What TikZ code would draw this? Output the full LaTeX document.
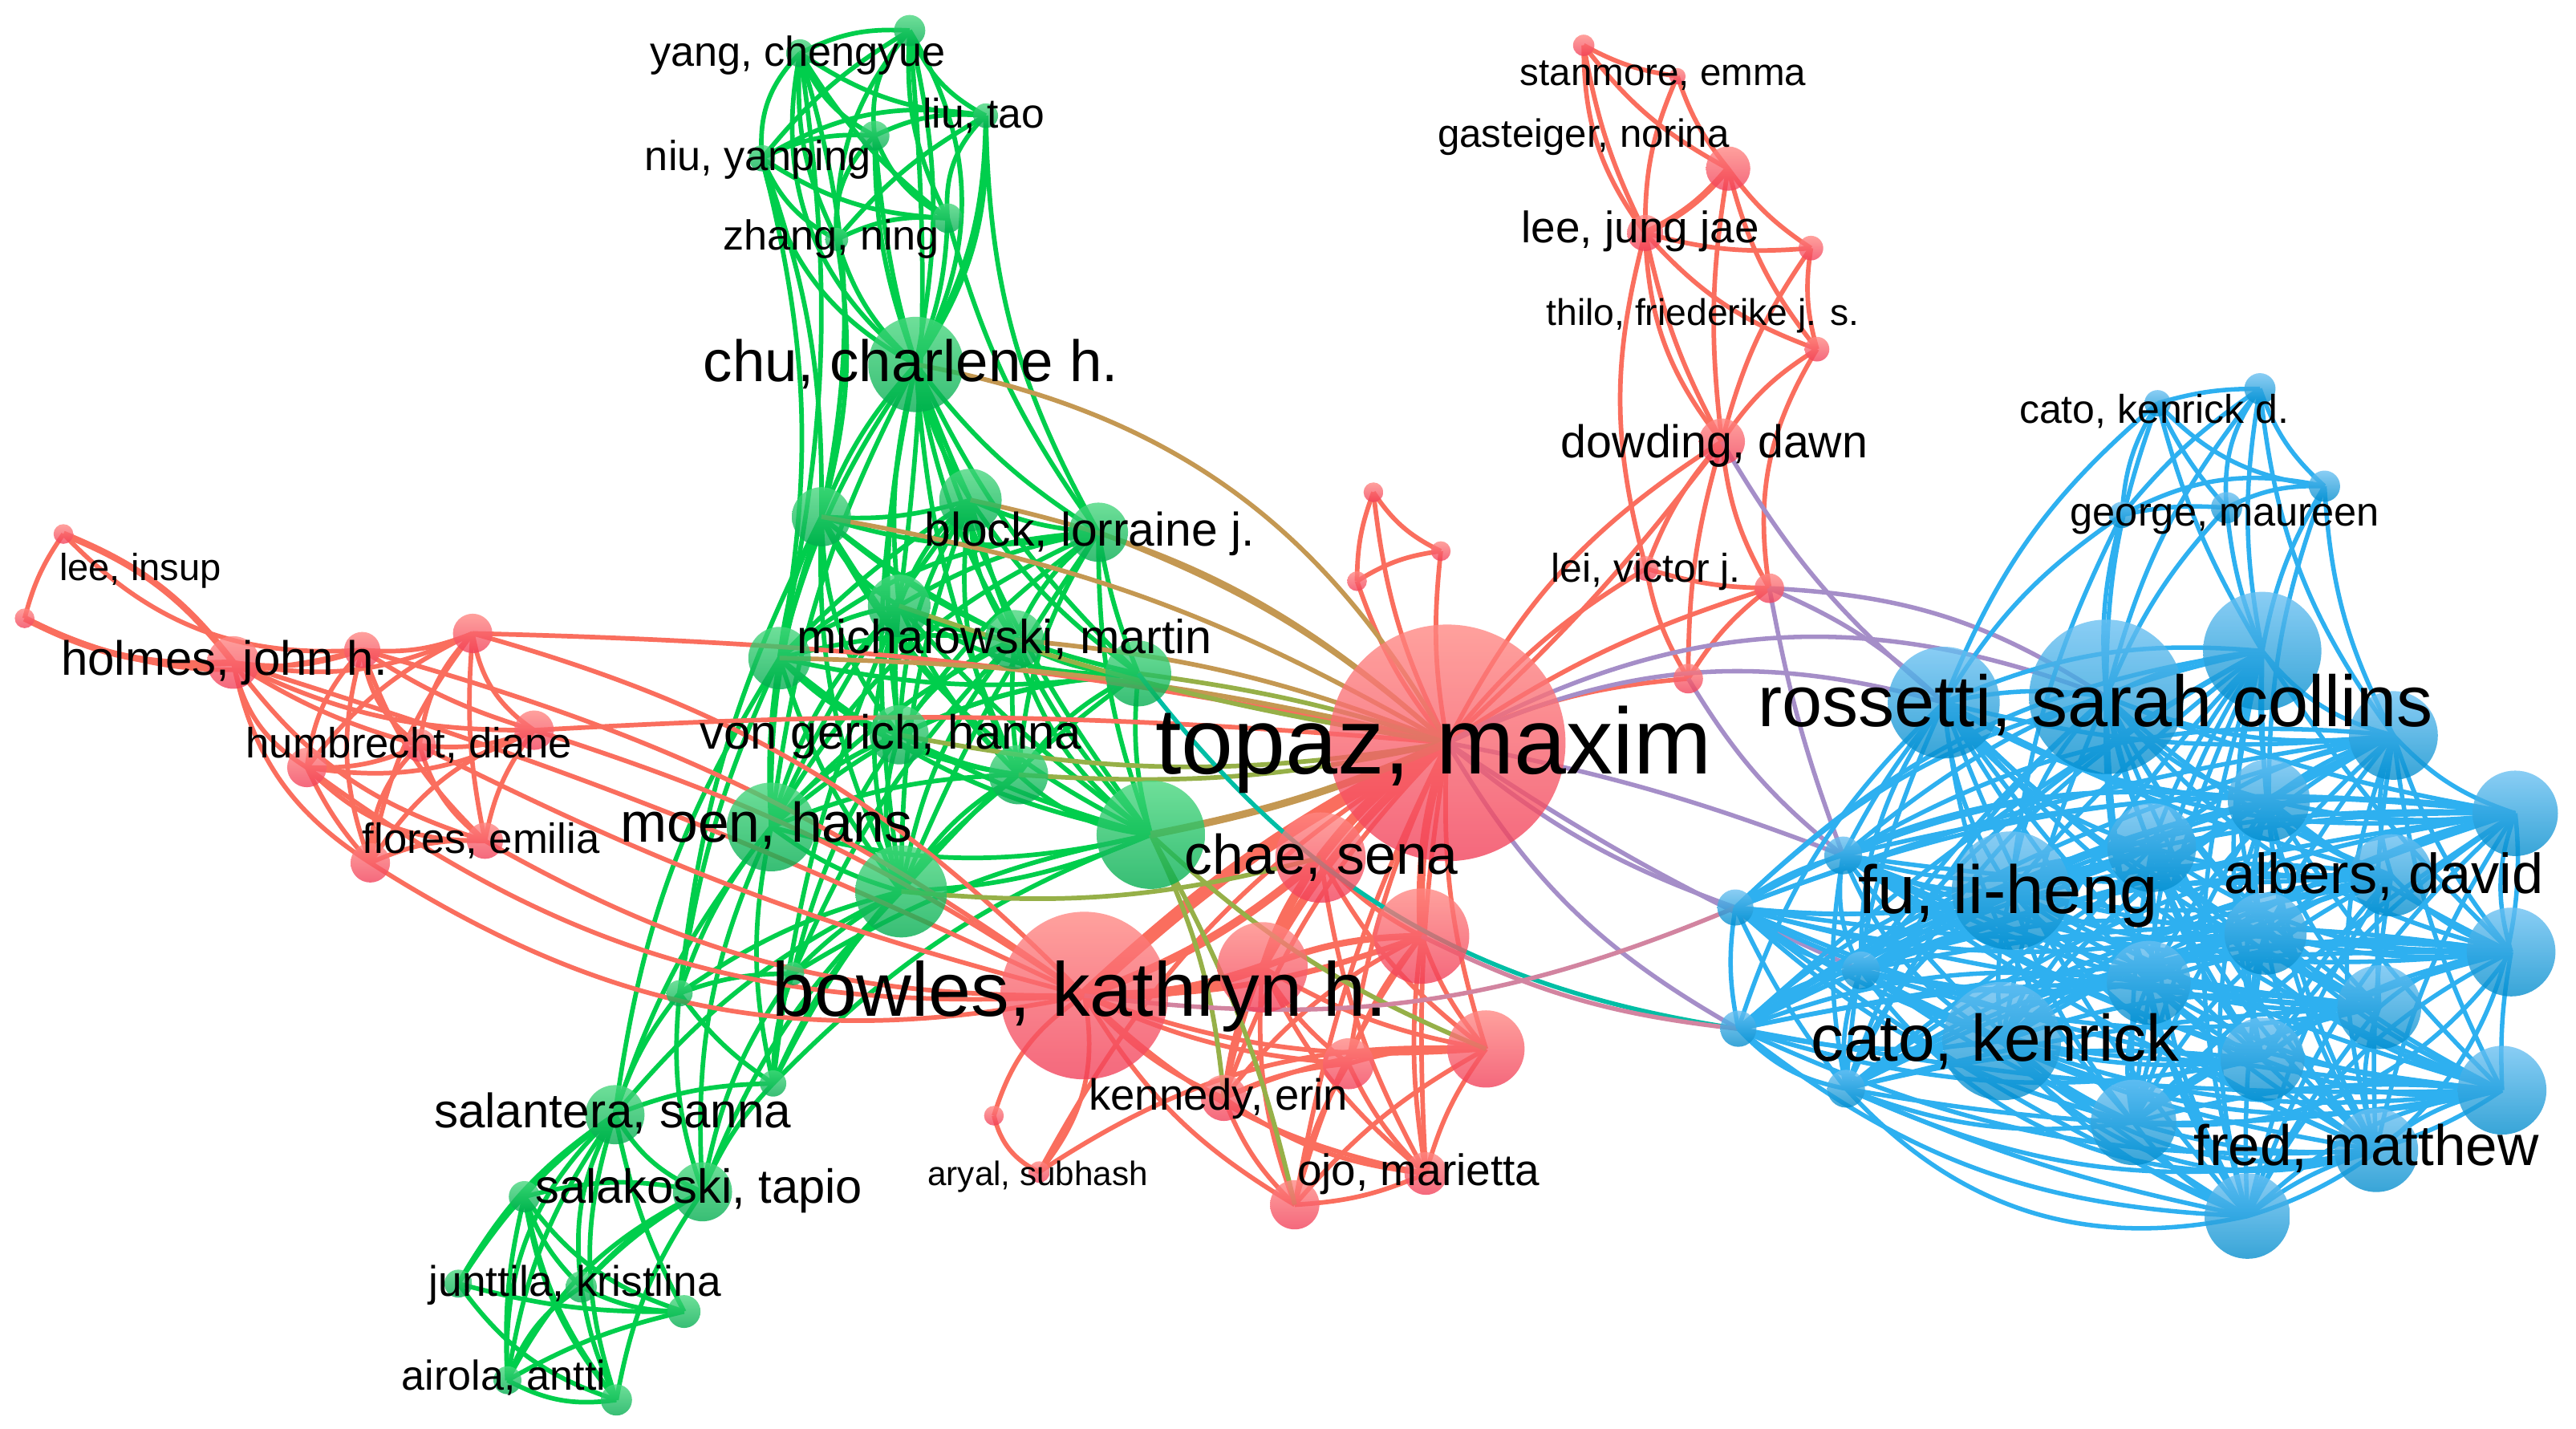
\documentclass[tikz,border=0pt]{standalone}
\usepackage{fontspec}
\setmainfont{Liberation Sans}
\pgfdeclarelayer{back}
\pgfdeclarelayer{bg}
\pgfsetlayers{back,bg,main}
\definecolor{redE}{RGB}{250,110,94}
\definecolor{greenE}{RGB}{0,206,76}
\definecolor{blueE}{RGB}{46,176,240}
\definecolor{rT}{RGB}{255,135,130}
\definecolor{rB}{RGB}{242,62,88}
\definecolor{gT}{RGB}{70,215,125}
\definecolor{gB}{RGB}{0,172,78}
\definecolor{bT}{RGB}{105,192,242}
\definecolor{bB}{RGB}{0,140,205}
\definecolor{oliveE}{RGB}{196,152,82}
\definecolor{oliveG}{RGB}{150,176,72}
\definecolor{purpE}{RGB}{165,142,200}
\definecolor{pinkE}{RGB}{210,132,160}
\definecolor{tealE}{RGB}{0,190,165}
\begin{document}
\begin{tikzpicture}[x=1pt,y=-1pt,
  rn/.style={circle,inner sep=0pt,draw=none,fill opacity=0.78,top color=rT,bottom color=rB},
  gn/.style={circle,inner sep=0pt,draw=none,fill opacity=0.78,top color=gT,bottom color=gB},
  bn/.style={circle,inner sep=0pt,draw=none,fill opacity=0.78,top color=bT,bottom color=bB},
  ge/.style={draw=greenE,line width=2.8pt},
  re/.style={draw=redE,line width=2.8pt},
  be/.style={draw=blueE,line width=2.7pt},
  oe/.style={draw=oliveE,line width=2.8pt},
  oge/.style={draw=oliveG,line width=2.8pt},
  pe/.style={draw=purpE,line width=2.7pt},
  pke/.style={draw=pinkE,line width=2.7pt},
  te/.style={draw=tealE,line width=2.7pt},
  lab/.style={anchor=base west,inner sep=0pt,text=black}]
\begin{pgfonlayer}{back}
\fill[white] (0,0) rectangle (1568,869.7);
\end{pgfonlayer}
\useasboundingbox (0,0) rectangle (1568,869.7);

% ---------- nodes ----------
\foreach \n/\x/\y/\d in {g0/557.5/221.8/58, g1/553.7/18.6/19, g2/487/32.4/17, g3/600/70.4/15,
  g4/532.4/82.6/18, g5/463.9/96.3/16, g6/576.8/132.8/18, g7/509.3/145.7/14,
  g8/500/314.5/36, g9/590.7/304.3/38, g10/668.6/323.9/36, g11/547.3/368.7/38,
  g12/617.5/389.3/36, g13/474.5/400.5/38, g14/692.9/409.9/40, g15/547.3/447.2/36,
  g16/620/471.5/36, g17/469.4/503.3/54, g18/548.6/542.5/56, g19/700.5/508/66,
  g20/482.7/592.6/14, g21/413.6/604.5/16, g22/470.6/659.4/16, g23/374.3/678.4/36,
  g24/427.6/725.3/36, g25/319.2/728.3/19, g26/279/781.2/17, g27/353.8/783.2/19,
  g28/416.4/798.2/20, g29/308.9/840/17, g30/375.2/852/19}
  \node[gn,minimum size=\d pt] (\n) at (\x,\y) {};

\foreach \n/\x/\y/\d in {r0/880.9/452.1/144, r1/660/605.9/102, r2/803.8/521.9/55, r3/865.3/569.7/58,
  r4/768.5/588.7/55, r5/904.5/638.4/47, r6/820.8/647.4/31, r7/745/668.2/28,
  r8/605/679/12, r9/632.5/713.3/13, r10/788.1/733.2/30, r11/867.9/714.2/26,
  r12/38.6/325/12, r13/15/376.3/12, r14/142/403.2/32, r15/220.5/395.6/22,
  r16/287.7/385.5/24, r17/186.8/467.1/24, r18/255.4/453.6/20, r19/325.1/444.4/24,
  r20/295.2/511.7/22, r21/225.4/525.1/24, r22/964/27.6/13, r23/1021/46.4/10,
  r24/1051.9/102.6/27, r25/1001.4/141.8/22, r26/1102.3/151/15, r27/1106/212.5/15,
  r28/1048.1/268.7/28, r29/1002/346/15, r30/1077/358/18, r31/1027.6/413/18,
  r32/877/335.4/12, r33/836/299.6/12, r34/826/353.7/12}
  \node[rn,minimum size=\d pt] (\n) at (\x,\y) {};

\foreach \n/\x/\y/\d in {b1/1375.6/236.6/19, b2/1313.3/245.4/16, b3/1414.9/295.9/19,
  b4/1355.3/309/19, b5/1291.6/313.4/16, b6/1377/396.2/72, b7/1282.1/424.1/94,
  b8/1183.2/427.6/68, b9/1456.9/447.6/54, b10/1381/487/50, b11/1531/495/52,
  b12/1121.9/520.6/23, b13/1056.3/552.3/22, b14/1224/542/72, b15/1309.7/515.9/54,
  b16/1455.6/532.7/50, b17/1379/568.2/50, b18/1528.5/579.4/54, b19/1132.8/590.6/23,
  b20/1307.9/598.1/51, b21/1448.3/613/51, b22/1058.1/626.1/22, b23/1218.5/633.6/72,
  b24/1377.2/644.8/51, b25/1123.7/662.6/23, b26/1523/663.5/54, b27/1298.7/683.1/52,
  b28/1446.4/700/51, b29/1368/740.1/52}
  \node[bn,minimum size=\d pt] (\n) at (\x,\y) {};

% ---------- edges ----------
\begin{pgfonlayer}{bg}
% green top cluster
\foreach \q/\b in {g1/30, g2/-32, g3/18, g4/-10, g5/-25, g6/10, g7/-15}
  \draw[ge] (g0.center) to[bend right=\b] (\q.center);
\foreach \i in {1,...,6}{\pgfmathtruncatemacro\s{\i+1}
  \foreach \j in {\s,...,7}{\pgfmathtruncatemacro\bb{10+mod(\i*3+\j,4)*5}
    \draw[ge] (g\i.center) to[bend right=\bb] (g\j.center);}}
\foreach \p/\q/\b in {g2/g8/-14, g5/g13/-12, g3/g10/14, g1/g11/-6, g5/g8/-10, g2/g13/-10, g4/g9/10, g7/g8/-12, g6/g10/10, g1/g0/-12, g3/g0/-15}
  \draw[ge] (\p.center) to[bend right=\b] (\q.center);
% green centre clique
\foreach \j in {8,...,19}{\draw[ge] (g0.center) to[bend right=10] (g\j.center);}
\foreach \i in {8,...,18}{\pgfmathtruncatemacro\s{\i+1}
  \foreach \j in {\s,...,19}{\pgfmathtruncatemacro\bb{6+mod(\i*3+\j,4)*4}
    \draw[ge] (g\i.center) to[bend right=\bb] (g\j.center);}}
% green bottom
\foreach \p/\q/\b in {g17/g21/10, g17/g22/12, g17/g23/10, g17/g24/14, g18/g20/8, g18/g21/10,
  g18/g22/10, g18/g23/12, g18/g24/12, g13/g21/8, g13/g23/12, g15/g20/10, g16/g22/12,
  g20/g21/10, g20/g22/10, g20/g24/12, g21/g22/10, g21/g23/10, g21/g24/12, g22/g23/10,
  g22/g24/10, g19/g20/10, g19/g22/12, g8/g21/10, g11/g22/8, g12/g20/10}
  \draw[ge] (\p.center) to[bend right=\b] (\q.center);
\foreach \i in {23,...,29}{\pgfmathtruncatemacro\s{\i+1}
  \foreach \j in {\s,...,30}{\pgfmathtruncatemacro\k{mod(\i+2*\j,4)}\pgfmathtruncatemacro\bb{8+mod(\i+\j,3)*5}
    \ifnum\k>0\relax\draw[ge] (g\i.center) to[bend right=\bb] (g\j.center);\fi}}
\foreach \p/\q/\b in {g23/g29/25, g24/g30/12, g23/g26/10, g24/g27/10, g25/g30/15}
  \draw[ge] (\p.center) to[bend right=\b] (\q.center);

% red left
\foreach \p/\q/\b in {r12/r13/10, r13/r15/20, r12/r15/25}
  \draw[re] (\p.center) to[bend right=\b] (\q.center);
\draw[re,line width=4pt] (r12.center) to[bend left=15] (r14.center);
\draw[re,line width=4pt] (r13.center) to[bend right=15] (r14.center);
\foreach \i in {14,...,20}{\pgfmathtruncatemacro\s{\i+1}
  \foreach \j in {\s,...,21}{\pgfmathtruncatemacro\bb{8+mod(\i*3+\j,4)*5}
    \draw[re] (r\i.center) to[bend right=\bb] (r\j.center);}}
\foreach \p/\q/\b in {r16/r1/-15, r16/r0/-5, r19/r1/-8, r19/r0/-4, r15/r1/-10,
  r20/r1/15, r21/r1/22, r17/r1/20, r14/r1/-4, r18/r1/6}
  \draw[re] (\p.center) to[bend right=\b] (\q.center);
% red top right
\foreach \p/\q/\b in {r22/r23/10, r22/r24/12, r22/r25/18, r22/r25/8, r23/r24/10, r23/r25/12,
  r24/r26/10, r24/r27/12, r24/r28/8, r25/r26/10, r25/r27/14, r25/r28/8, r25/r28/18,
  r26/r27/12, r26/r28/10, r27/r28/12, r28/r29/10, r28/r30/12, r28/r31/8, r28/r0/15,
  r29/r30/8, r29/r31/10, r29/r0/10, r30/r31/10, r30/r0/8, r31/r0/10, r27/r30/20,
  r33/r32/15, r33/r34/10, r32/r34/12, r33/r0/10, r32/r0/8, r34/r0/10, r25/r29/15, r28/r0/-5}
  \draw[re] (\p.center) to[bend right=\b] (\q.center);
\draw[re,line width=4pt] (r24.center) to[bend left=12] (r25.center);
% red centre
\foreach \p/\q/\b in {r0/r5/10, r0/r6/8, r0/r7/12, r0/r10/8, r0/r11/6, r1/r3/10, r1/r5/12,
  r1/r6/10, r1/r7/12, r1/r8/20, r1/r9/-25, r1/r10/14, r1/r11/16, r8/r9/25, r3/r5/10, r3/r6/10,
  r3/r10/10, r3/r11/8, r4/r5/10, r4/r6/10, r4/r7/10, r4/r10/12, r5/r6/10, r5/r7/12,
  r5/r10/10, r5/r11/10, r6/r7/10, r6/r10/10, r6/r11/10, r7/r10/12, r7/r11/14, r10/r11/10,
  r2/r5/12, r2/r11/10, r2/r3/10, r4/r11/12, r2/r7/10, r3/r7/12, r0/r9/15, r5/r9/18}
  \draw[re] (\p.center) to[bend right=\b] (\q.center);
\draw[re,line width=8pt] (r0.center) to[bend right=8] (r1.center);
\foreach \p/\q/\w in {r0/r2/6, r1/r4/6, r0/r3/5, r1/r2/5, r0/r4/5, r2/r4/4, r3/r4/4, r1/r3/3.5}
  \draw[re,line width=\w pt] (\p.center) to[bend right=10] (\q.center);
% green-red
\foreach \p/\q/\b in {g0/r0/-25, g10/r0/-10, g12/r0/-8, g9/r0/-15, g13/r0/-6, g8/r0/-10}
  \draw[oe] (\p.center) to[bend right=\b] (\q.center);
\foreach \p/\q/\b in {g14/r0/-5, g16/r0/8, g11/r0/5, g15/r0/10, g19/r5/10, g19/r7/-10, g19/r10/-8, g18/r2/10}
  \draw[oge] (\p.center) to[bend right=\b] (\q.center);
\draw[oe,line width=4.5pt] (g19.center) to[bend right=6] (r0.center);
% green-blue
\draw[te] (g14.center) to[bend right=22] (b22.center);
% red-blue
\foreach \p/\q/\b in {r0/b8/-20, r30/b8/-10, r30/b7/-15, r28/b8/10, r0/b13/10, r0/b12/-5,
  r0/b22/15, r0/b19/5, r31/b12/10, r0/b7/-25, r30/b12/5}
  \draw[pe] (\p.center) to[bend right=\b] (\q.center);
\draw[pke] (r1.center) to[bend right=15] (b13.center);
\draw[pke] (r3.center) to[bend right=10] (b22.center);
% blue
\foreach \i in {1,...,4}{\pgfmathtruncatemacro\s{\i+1}
  \foreach \j in {\s,...,5}{\pgfmathtruncatemacro\bb{8+mod(\i+\j,3)*6}
    \draw[be] (b\i.center) to[bend right=\bb] (b\j.center);}}
\foreach \p/\q/\b in {b1/b6/10, b1/b7/12, b2/b7/10, b2/b8/14, b3/b6/10, b3/b9/12, b4/b7/10,
  b4/b6/8, b5/b8/12, b5/b7/10, b2/b6/8, b3/b10/10, b5/b14/10, b1/b9/15}
  \draw[be] (\p.center) to[bend right=\b] (\q.center);
\foreach \i in {6,...,28}{\pgfmathtruncatemacro\s{\i+1}
  \foreach \j in {\s,...,29}{\pgfmathtruncatemacro\k{mod(\i*7+\j*3,5)}\pgfmathtruncatemacro\bb{6+mod(\i*3+\j,4)*4}
    \ifnum\k>0\relax\draw[be] (b\i.center) to[bend right=\bb] (b\j.center);\fi}}
\foreach \p/\q/\b in {b23/b26/40, b25/b29/30, b19/b28/35, b29/b11/40, b27/b18/30, b23/b28/35}
  \draw[be] (\p.center) to[bend right=\b] (\q.center);
\end{pgfonlayer}

% ---------- labels ----------
\node[lab,font=\fontsize{25.5}{25.5}\selectfont] (l-yang) at (395.5,40.5) {yang, chengyue};
\node[lab,font=\fontsize{25.2}{25.2}\selectfont] (l-liu) at (561.5,77.7) {liu, tao};
\node[lab,font=\fontsize{25.5}{25.5}\selectfont] (l-niu) at (392.4,103.6) {niu, yanping};
\node[lab,font=\fontsize{25.5}{25.5}\selectfont] (l-zhang) at (439.8,152.2) {zhang, ning};
\node[lab,font=\fontsize{35.5}{35.5}\selectfont] (l-chu) at (428,232.3) {chu, charlene h.};
\node[lab,font=\fontsize{23.2}{23.2}\selectfont] (l-stan) at (925,52.1) {stanmore, emma};
\node[lab,font=\fontsize{24}{24}\selectfont] (l-gast) at (875,89.5) {gasteiger, norina};
\node[lab,font=\fontsize{26.8}{26.8}\selectfont] (l-leej) at (926,147.9) {lee, jung jae};
\node[lab,font=\fontsize{22.6}{22.6}\selectfont] (l-thilo) at (941,198) {thilo, friederike j. s.};
\node[lab,font=\fontsize{28}{28}\selectfont] (l-dowd) at (950,278.7) {dowding, dawn};
\node[lab,font=\fontsize{24.4}{24.4}\selectfont] (l-lei) at (944,354.5) {lei, victor j.};
\node[lab,font=\fontsize{23}{23}\selectfont] (l-leei) at (36,353.3) {lee, insup};
\node[lab,font=\fontsize{29.3}{29.3}\selectfont] (l-holm) at (37,411) {holmes, john h.};
\node[lab,font=\fontsize{25.7}{25.7}\selectfont] (l-humb) at (149.5,461.2) {humbrecht, diane};
\node[lab,font=\fontsize{25.7}{25.7}\selectfont] (l-flor) at (220.5,519.2) {flores, emilia};
\node[lab,font=\fontsize{28.7}{28.7}\selectfont] (l-block) at (562.5,332.3) {block, lorraine j.};
\node[lab,font=\fontsize{29}{29}\selectfont] (l-mich) at (484.7,397.7) {michalowski, martin};
\node[lab,font=\fontsize{29.2}{29.2}\selectfont] (l-von) at (426,455.6) {von gerich, hanna};
\node[lab,font=\fontsize{34}{34}\selectfont] (l-moen) at (377.5,512.7) {moen, hans};
\node[lab,font=\fontsize{57}{57}\selectfont] (l-topaz) at (703,471.2) {topaz, maxim};
\node[lab,font=\fontsize{34}{34}\selectfont] (l-chae) at (721,531.9) {chae, sena};
\node[lab,font=\fontsize{46.5}{46.5}\selectfont] (l-bowles) at (469.6,618.5) {bowles, kathryn h.};
\node[lab,font=\fontsize{26.6}{26.6}\selectfont] (l-kenn) at (662.6,675.4) {kennedy, erin};
\node[lab,font=\fontsize{20.6}{20.6}\selectfont] (l-aryal) at (564.5,721.4) {aryal, subhash};
\node[lab,font=\fontsize{26.8}{26.8}\selectfont] (l-ojo) at (789.5,721.4) {ojo, marietta};
\node[lab,font=\fontsize{29.4}{29.4}\selectfont] (l-salan) at (264,686.4) {salantera, sanna};
\node[lab,font=\fontsize{29.1}{29.1}\selectfont] (l-salak) at (325.7,732.3) {salakoski, tapio};
\node[lab,font=\fontsize{26}{26}\selectfont] (l-junt) at (261,789) {junttila, kristiina};
\node[lab,font=\fontsize{25.4}{25.4}\selectfont] (l-airola) at (244.4,846) {airola, antti};
\node[lab,font=\fontsize{24.4}{24.4}\selectfont] (l-catod) at (1229,257.6) {cato, kenrick d.};
\node[lab,font=\fontsize{24.7}{24.7}\selectfont] (l-george) at (1260,320.3) {george, maureen};
\node[lab,font=\fontsize{44}{44}\selectfont] (l-ross) at (1070,442.4) {rossetti, sarah collins};
\node[lab,font=\fontsize{41.5}{41.5}\selectfont] (l-fu) at (1131,556) {fu, li-heng};
\node[lab,font=\fontsize{34.3}{34.3}\selectfont] (l-albers) at (1353.5,543.9) {albers, david};
\node[lab,font=\fontsize{40}{40}\selectfont] (l-cato) at (1102,645.8) {cato, kenrick};
\node[lab,font=\fontsize{34.7}{34.7}\selectfont] (l-fred) at (1335,709.3) {fred, matthew};
\end{tikzpicture}
\end{document}
